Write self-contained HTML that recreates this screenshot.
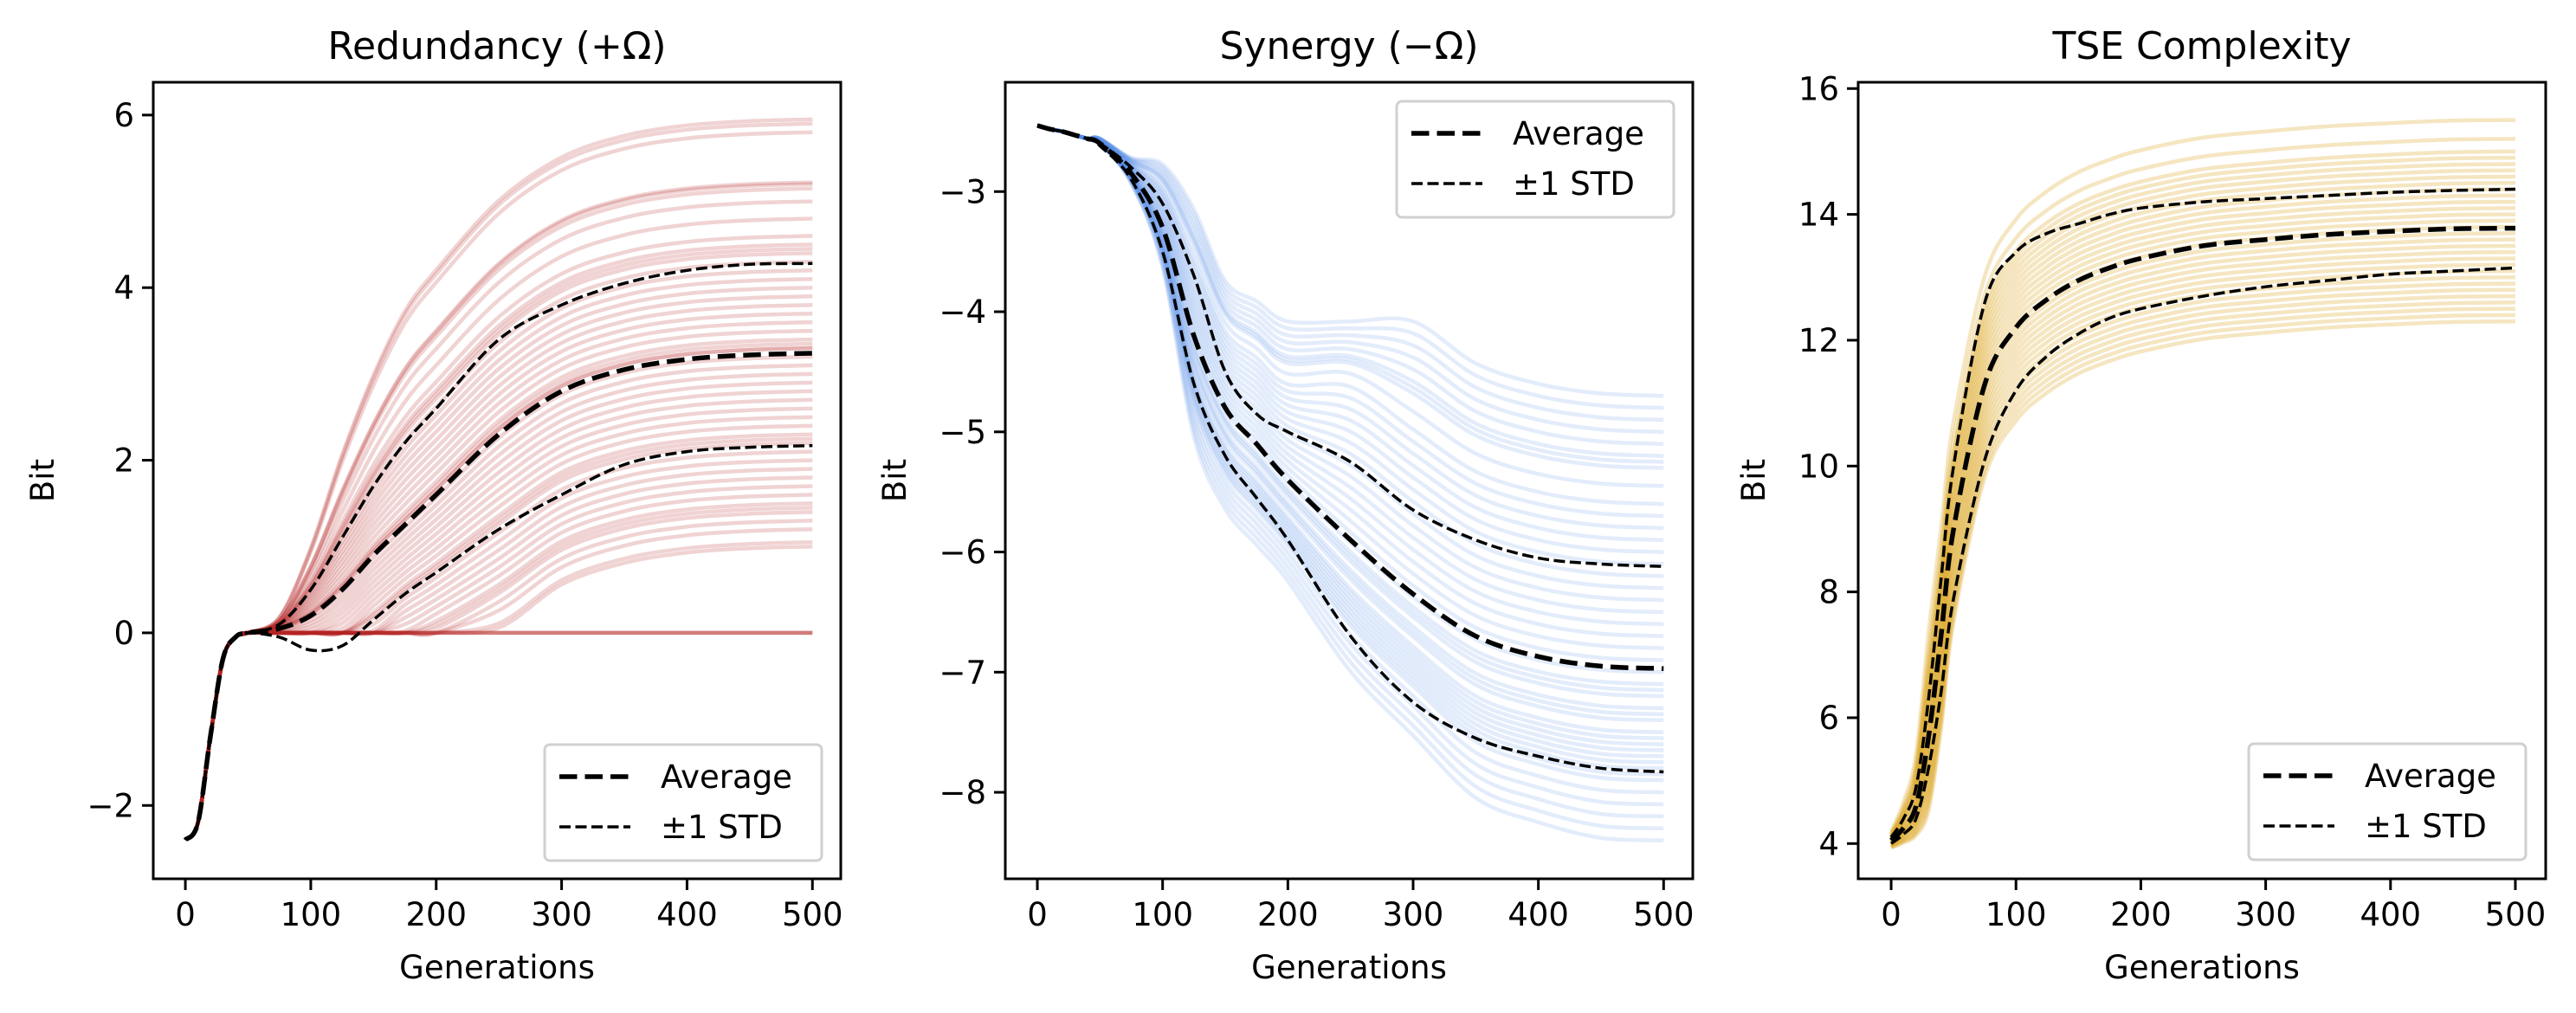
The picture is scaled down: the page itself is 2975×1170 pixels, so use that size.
<!DOCTYPE html>
<html><head><meta charset="utf-8">
<style>
html,body{margin:0;padding:0;background:#fff;}
svg{display:block;font-family:"DejaVu Sans","Liberation Sans",sans-serif;}
</style></head>
<body>
<svg id="fig" width="2975" height="1170" xmlns="http://www.w3.org/2000/svg"></svg>
<script>
// ---- shared x samples (generations) ----
const gens = [0,10,20,30,40,50,75,100,125,150,175,200,250,300,350,400,450,500];

// ---- Redundancy panel data ----
const redMean  = [-2.4,-2.2,-1.2,-0.3,-0.05,0,0.05,0.2,0.5,0.9,1.25,1.6,2.3,2.8,3.05,3.17,3.22,3.24];
const redUpper = [-2.4,-2.2,-1.2,-0.3,-0.05,0,0.1,0.5,1.1,1.7,2.2,2.6,3.4,3.8,4.05,4.2,4.27,4.28];
const redLower = [-2.4,-2.2,-1.2,-0.3,-0.05,0,-0.05,-0.2,-0.15,0.15,0.45,0.7,1.2,1.6,1.95,2.1,2.15,2.17];
const redFinals = [5.95,5.9,5.8,5.22,5.2,5.15,5.0,4.8,4.6,4.5,4.45,4.4,4.3,4.2,4.1,4.0,3.9,3.8,3.7,3.6,3.5,3.4,3.35,3.3,3.3,3.2,3.1,3.0,2.9,2.8,2.7,2.6,2.5,2.4,2.3,2.25,2.2,2.1,2.0,1.9,1.8,1.7,1.6,1.5,1.45,1.4,1.3,1.2,1.05,1.0,0.0,0.0,0.0,0.0];

// ---- Synergy panel data ----
const synMean  = [-2.45,-2.48,-2.5,-2.53,-2.56,-2.6,-2.85,-3.3,-4.2,-4.8,-5.1,-5.4,-5.9,-6.35,-6.7,-6.87,-6.95,-6.97];
const synUpper = [-2.45,-2.48,-2.5,-2.53,-2.56,-2.6,-2.8,-3.1,-3.7,-4.5,-4.85,-5.0,-5.25,-5.65,-5.9,-6.05,-6.1,-6.12];
const synLower = [-2.45,-2.48,-2.5,-2.53,-2.56,-2.62,-2.9,-3.5,-4.6,-5.2,-5.55,-5.9,-6.7,-7.25,-7.55,-7.7,-7.8,-7.83];
const synFinals = [-4.7,-4.8,-4.9,-5.0,-5.1,-5.2,-5.25,-5.3,-5.45,-5.6,-5.7,-5.8,-5.9,-6.0,-6.1,-6.2,-6.3,-6.4,-6.5,-6.6,-6.7,-6.8,-6.9,-7.0,-7.1,-7.15,-7.2,-7.3,-7.35,-7.4,-7.5,-7.55,-7.6,-7.65,-7.7,-7.75,-7.8,-7.85,-7.9,-8.0,-8.1,-8.2,-8.3,-8.4];

// ---- TSE panel data ----
const tseMean  = [4.05,4.25,4.6,5.7,7.3,9.0,11.3,12.2,12.65,12.95,13.15,13.3,13.5,13.6,13.68,13.73,13.77,13.78];
const tseUpper = [4.1,4.4,4.9,6.3,8.2,10.0,12.6,13.4,13.7,13.85,14.0,14.1,14.2,14.25,14.3,14.35,14.38,14.4];
const tseLower = [4.0,4.15,4.4,5.2,6.4,7.9,10.1,11.2,11.75,12.1,12.35,12.5,12.7,12.85,12.95,13.05,13.1,13.15];
const tseFinals = [15.5,15.2,15.0,14.9,14.8,14.7,14.6,14.5,14.4,14.3,14.2,14.1,14.0,13.9,13.8,13.7,13.6,13.5,13.4,13.3,13.2,13.1,13.0,12.9,12.8,12.7,12.6,12.5,12.4,12.3];

const xTicks = [0,100,200,300,400,500];
const redYTicks = [-2,0,2,4,6];
const synYTicks = [-8,-7,-6,-5,-4,-3];
const tseYTicks = [4,6,8,10,12,14,16];

const NS="http://www.w3.org/2000/svg";
const fig=document.getElementById('fig');
function el(tag,attrs,parent){const e=document.createElementNS(NS,tag);for(const k in attrs)e.setAttribute(k,attrs[k]);(parent||fig).appendChild(e);return e;}
function pathD(pts){let d='M'+pts[0][0].toFixed(1)+','+pts[0][1].toFixed(1);
 for(let i=0;i<pts.length-1;i++){const p0=pts[Math.max(0,i-1)],p1=pts[i],p2=pts[i+1],p3=pts[Math.min(pts.length-1,i+2)];
  const c1=[p1[0]+(p2[0]-p0[0])/6,p1[1]+(p2[1]-p0[1])/6],c2=[p2[0]-(p3[0]-p1[0])/6,p2[1]-(p3[1]-p1[1])/6];
  d+=' C'+c1[0].toFixed(1)+','+c1[1].toFixed(1)+' '+c2[0].toFixed(1)+','+c2[1].toFixed(1)+' '+p2[0].toFixed(1)+','+p2[1].toFixed(1);}
 return d;}

function panel(cfg){
 const g=el('g',{});
 
 
 const xs=v=>cfg.x0+(v-cfg.xmin)/(cfg.xmax-cfg.xmin)*(cfg.x1-cfg.x0);
 const ys=v=>cfg.y1-(v-cfg.ymin)/(cfg.ymax-cfg.ymin)*(cfg.y1-cfg.y0);
 const n=gens.length, mEnd=cfg.mean[n-1];
 const sUp=cfg.upper.map((u,i)=>Math.abs(u-cfg.mean[i])), sLo=cfg.lower.map((l,i)=>Math.abs(cfg.mean[i]-l));
 function weights(s){const e=s[n-1];let m=0;return s.map(v=>{m=Math.max(m,Math.min(1,v/e));return m;});}
 const wUp=weights(sUp), wLo=weights(sLo);
 const tg=el('g',{},g);
 
 
 cfg.finals.forEach(f=>{
  const above=(f-mEnd)*cfg.dir>=0;
  const w=above?wUp:wLo;
  let prev=null;
  const pts=gens.map((gv,i)=>{
   let v=cfg.mean[i]+(f-mEnd)*w[i];
   if(cfg.floor!==undefined && gv>=50) v=Math.max(v,cfg.floor);
   if(prev!==null) v=cfg.dir>0?Math.max(v,prev):Math.min(v,prev);
   prev=v;
   return [xs(gv),ys(v)];});
  const p=el('path',{d:pathD(pts),fill:'none',stroke:cfg.color,'stroke-opacity':cfg.alpha,'stroke-width':4.5},tg);
  
  
 });
 [[cfg.upper,'std-upper-line'],[cfg.lower,'std-lower-line']].forEach(([arr,nm])=>{
  const p=el('path',{d:pathD(gens.map((gv,i)=>[xs(gv),ys(arr[i])])),fill:'none',stroke:'#000','stroke-width':3.5,'stroke-dasharray':'13,5.5'},g);
  
  
 });
 const pm=el('path',{d:pathD(gens.map((gv,i)=>[xs(gv),ys(cfg.mean[i])])),fill:'none',stroke:'#000','stroke-width':5.5,'stroke-dasharray':'20.5,9'},g);
 
 
 const fr=el('rect',{x:cfg.x0,y:cfg.y0,width:cfg.x1-cfg.x0,height:cfg.y1-cfg.y0,fill:'none',stroke:'#000','stroke-width':3},g);
 
 
 xTicks.forEach(t=>{const x=xs(t);
  el('line',{x1:x,x2:x,y1:cfg.y1,y2:cfg.y1+13,stroke:'#000','stroke-width':3},g);
  const tx=el('text',{x:x,y:cfg.y1+54,'font-size':37,'text-anchor':'middle',fill:'#000'},g);tx.textContent=t;
  
  });
 cfg.yticks.forEach(t=>{const y=ys(t);
  el('line',{x1:cfg.x0-13,x2:cfg.x0,y1:y,y2:y,stroke:'#000','stroke-width':3},g);
  const tx=el('text',{x:cfg.x0-22,y:y+13,'font-size':37,'text-anchor':'end',fill:'#000'},g);tx.textContent=(t<0?'\u2212'+(-t):t);
  
  });
 const xl=el('text',{x:(cfg.x0+cfg.x1)/2,y:1130,'font-size':37,'text-anchor':'middle'},g);xl.textContent='Generations';
 
 
 const yl=el('text',{x:0,y:0,'font-size':37,'text-anchor':'middle',transform:`translate(${cfg.ylx},555) rotate(-90)`},g);yl.textContent='Bit';
 
 
 const ti=el('text',{x:(cfg.x0+cfg.x1)/2,y:68,'font-size':44,'text-anchor':'middle'},g);ti.textContent=cfg.title;
 
 
 const L=cfg.legend;
 const lg=el('g',{},g);
 
 
 el('rect',{x:L.x,y:L.y,width:320,height:134,rx:6,fill:'#fff','fill-opacity':0.85,stroke:'#d0d0d0','stroke-width':3},lg);
 const l1=el('line',{x1:L.x+17,x2:L.x+99,y1:L.y+37,y2:L.y+37,stroke:'#000','stroke-width':5.5,'stroke-dasharray':'20.5,9'},lg);
 
 
 const t1=el('text',{x:L.x+134,y:L.y+50,'font-size':37},lg);t1.textContent='Average';
 const l2=el('line',{x1:L.x+17,x2:L.x+99,y1:L.y+95,y2:L.y+95,stroke:'#000','stroke-width':3.5,'stroke-dasharray':'13,5.5'},lg);
 
 
 const t2=el('text',{x:L.x+134,y:L.y+108,'font-size':37},lg);t2.textContent='\u00b11 STD';
}

panel({name:'redundancy-panel',title:'Redundancy (+\u03a9)',x0:177,x1:971,y0:95,y1:1015,xmin:-25.6,xmax:522.6,ymin:-2.85,ymax:6.38,
 mean:redMean,upper:redUpper,lower:redLower,finals:redFinals,color:'#b22222',alpha:0.2,floor:-0.02,dir:1,
 yticks:redYTicks,ylx:62,legend:{x:629,y:860}});
panel({name:'synergy-panel',title:'Synergy (\u2212\u03a9)',x0:1161,x1:1955,y0:95,y1:1015,xmin:-25.6,xmax:523.3,ymin:-8.72,ymax:-2.09,
 mean:synMean,upper:synUpper,lower:synLower,finals:synFinals,color:'#4f86e6',alpha:0.16,dir:-1,
 yticks:synYTicks,ylx:1046,legend:{x:1613,y:117}});
panel({name:'tse-complexity-panel',title:'TSE Complexity',x0:2146,x1:2940,y0:95,y1:1015,xmin:-26.4,xmax:524.3,ymin:3.44,ymax:16.1,
 mean:tseMean,upper:tseUpper,lower:tseLower,finals:tseFinals,color:'#daa520',alpha:0.28,dir:1,
 yticks:tseYTicks,ylx:2038,legend:{x:2597,y:859}});
</script>
</body></html>
